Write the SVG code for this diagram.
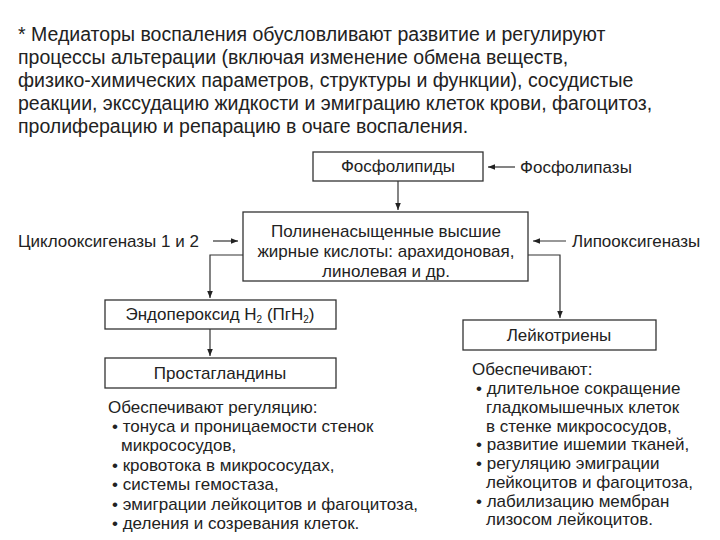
<svg xmlns="http://www.w3.org/2000/svg" width="720" height="540" viewBox="0 0 720 540">
<defs>
<marker id="ah" viewBox="0 0 10 10" refX="10" refY="5" markerWidth="6" markerHeight="6" orient="auto"><path d="M0,1 L10,5 L0,9 z" fill="#222"/></marker>
<style>
text{font-family:"Liberation Sans",Arial,sans-serif;fill:#222}
.h{font-size:19.5px}
.n{font-size:17px}
.b{fill:#fff;stroke:#333;stroke-width:1.3}
.c{fill:none;stroke:#333;stroke-width:1.2;marker-end:url(#ah)}
</style>
</defs>
<rect width="720" height="540" fill="#fff"/>
<g id="intro">
<text x="18" y="41" class="h">* Медиаторы воспаления обусловливают развитие и регулируют</text>
<text x="18" y="64" class="h">процессы альтерации (включая изменение обмена веществ,</text>
<text x="18" y="87" class="h">физико‑химических параметров, структуры и функции), сосудистые</text>
<text x="18" y="110" class="h">реакции, экссудацию жидкости и эмиграцию клеток крови, фагоцитоз,</text>
<text x="18" y="133" class="h">пролиферацию и репарацию в очаге воспаления.</text>
</g>
<g id="connectors">
<path class="c" d="M515,167 H488"/>
<path class="c" d="M398,181 V210"/>
<path class="c" d="M213,241 H238"/>
<path class="c" d="M566,241 H533"/>
<path class="c" d="M243,255 H210 V298"/>
<path class="c" d="M528,255 H560 V318"/>
<path class="c" d="M210,329 V356"/>
</g>
<g id="phospholipids"><rect class="b" x="313" y="152" width="170" height="29"/><text class="n" x="398" y="172" text-anchor="middle">Фосфолипиды</text></g>
<g id="phospholipases"><text class="n" x="520" y="173">Фосфолипазы</text></g>
<g id="pufa"><rect class="b" x="243" y="212" width="285" height="69"/>
<text class="n" x="386" y="237" text-anchor="middle">Полиненасыщенные высшие</text>
<text class="n" x="386" y="257" text-anchor="middle">жирные кислоты: арахидоновая,</text>
<text class="n" x="386" y="277" text-anchor="middle">линолевая и др.</text></g>
<g id="cox"><text class="n" x="18" y="247">Циклооксигеназы 1 и 2</text></g>
<g id="lox"><text class="n" x="572" y="247">Липооксигеназы</text></g>
<g id="endoperoxide"><rect class="b" x="105" y="300" width="231" height="29"/><text class="n" x="220" y="320" text-anchor="middle">Эндопероксид Н<tspan font-size="10" dy="3">2</tspan><tspan dy="-3"> (ПгН</tspan><tspan font-size="10" dy="3">2</tspan><tspan dy="-3">)</tspan></text></g>
<g id="prostaglandins"><rect class="b" x="105" y="358" width="231" height="30"/><text class="n" x="220" y="379" text-anchor="middle">Простагландины</text></g>
<g id="leukotrienes"><rect class="b" x="463" y="320" width="193" height="30"/><text class="n" x="559" y="341" text-anchor="middle">Лейкотриены</text></g>
<g id="pg-effects">
<text class="n" x="108" y="413">Обеспечивают регуляцию:</text>
<text class="n" x="112" y="432">• тонуса и проницаемости стенок</text>
<text class="n" x="121" y="451">микрососудов,</text>
<text class="n" x="112" y="471">• кровотока в микрососудах,</text>
<text class="n" x="112" y="490">• системы гемостаза,</text>
<text class="n" x="112" y="510">• эмиграции лейкоцитов и фагоцитоза,</text>
<text class="n" x="112" y="529">• деления и созревания клеток.</text>
</g>
<g id="lt-effects">
<text class="n" x="472" y="375">Обеспечивают:</text>
<text class="n" x="476" y="394">• длительное сокращение</text>
<text class="n" x="486" y="413">гладкомышечных клеток</text>
<text class="n" x="486" y="432">в стенке микрососудов,</text>
<text class="n" x="476" y="450">• развитие ишемии тканей,</text>
<text class="n" x="476" y="469">• регуляцию эмиграции</text>
<text class="n" x="486" y="488">лейкоцитов и фагоцитоза,</text>
<text class="n" x="476" y="507">• лабилизацию мембран</text>
<text class="n" x="486" y="525">лизосом лейкоцитов.</text>
</g>
</svg>
